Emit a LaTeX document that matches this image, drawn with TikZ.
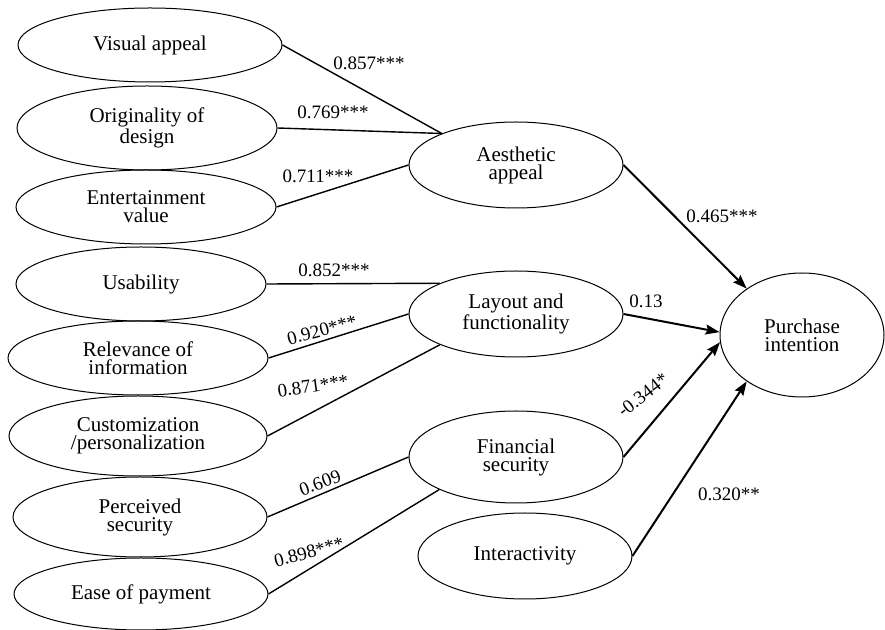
\documentclass[tikz,border=0pt]{standalone}
\usepackage{fontspec}
\setmainfont{Liberation Serif}
\usetikzlibrary{arrows.meta,shapes.geometric}

\tikzset{
  latent/.style={draw,ellipse,line width=0.5pt,inner sep=0pt,align=center,
    font=\fontsize{10.5}{9}\selectfont},
  load/.style={line width=0.7pt},
  effect/.style={-{Stealth[length=7pt,width=5pt,inset=1pt]},line width=1pt},
  coef/.style={inner sep=1pt,font=\fontsize{9.5}{10}\selectfont}
}

\begin{document}
\begin{tikzpicture}[x=0.5pt,y=-0.5pt]
\useasboundingbox (0,0) rectangle (885,630);
% indicators
\node[latent,minimum width=132pt,minimum height=37pt] (visual)   at (150,45)  {Visual appeal};
\node[latent,minimum width=130pt,minimum height=42pt] (orig)     at (147,128) {Originality of\\design};
\node[latent,minimum width=130pt,minimum height=37pt] (entert)   at (146,207) {Entertainment\\value};
\node[latent,minimum width=125pt,minimum height=37pt] (usab)     at (141,284) {Usability};
\node[latent,minimum width=130pt,minimum height=37pt] (relev)    at (138,358) {Relevance of\\information};
\node[latent,minimum width=129pt,minimum height=40pt] (custom)   at (138,436) {Customization\\/personalization};
\node[latent,minimum width=127pt,minimum height=40pt] (percsec)  at (140,517) {Perceived\\security};
\node[latent,minimum width=127pt,minimum height=36pt] (easepay)  at (141,594) {Ease of payment};
% constructs
\node[latent,minimum width=107pt,minimum height=43pt] (aesth)    at (516,165) {Aesthetic\\appeal};
\node[latent,minimum width=107pt,minimum height=43pt] (layout)   at (516,314) {Layout and\\functionality};
\node[latent,minimum width=107pt,minimum height=46pt] (finsec)   at (516,457) {Financial\\security};
\node[latent,minimum width=107pt,minimum height=43pt] (interact) at (525,556) {Interactivity};
\node[latent,minimum width=82pt,minimum height=62pt]  (purchase) at (802,335) {Purchase\\intention};
% loadings
\draw[load] (visual.east)  -- (aesth.157);
\draw[load] (orig.east)    -- (aesth.157);
\draw[load] (entert.east)  -- (aesth.west);
\draw[load] (usab.east)    -- (layout.158);
\draw[load] (relev.east)   -- (layout.west);
\draw[load] (custom.east)  -- (layout.202);
\draw[load] (percsec.east) -- (finsec.west);
\draw[load] (easepay.east) -- (finsec.203);
% structural paths
\draw[effect] (aesth.east)    -- (purchase.140);
\draw[effect] (layout.east)   -- (purchase.178);
\draw[effect] (finsec.east)   -- (purchase.185);
\draw[effect] (interact.east) -- (purchase.220);
% coefficients
\node[coef] (c1)  at (369,63)  {0.857***};
\node[coef] (c2)  at (333,112) {0.769***};
\node[coef] (c3)  at (318,176) {0.711***};
\node[coef] (c4)  at (334,270) {0.852***};
\node[coef,rotate=15] (c5) at (322,330) {0.920***};
\node[coef,rotate=8]  (c6) at (313,386) {0.871***};
\node[coef,rotate=20] (c7) at (320,483) {0.609};
\node[coef,rotate=15] (c8) at (309,552) {0.898***};
\node[coef] (c9)  at (722,216) {0.465***};
\node[coef] (c10) at (646,301) {0.13};
\node[coef,rotate=38] (c11) at (643,395) {-0.344*};
\node[coef] (c12) at (729,494) {0.320**};
\end{tikzpicture}
\end{document}
